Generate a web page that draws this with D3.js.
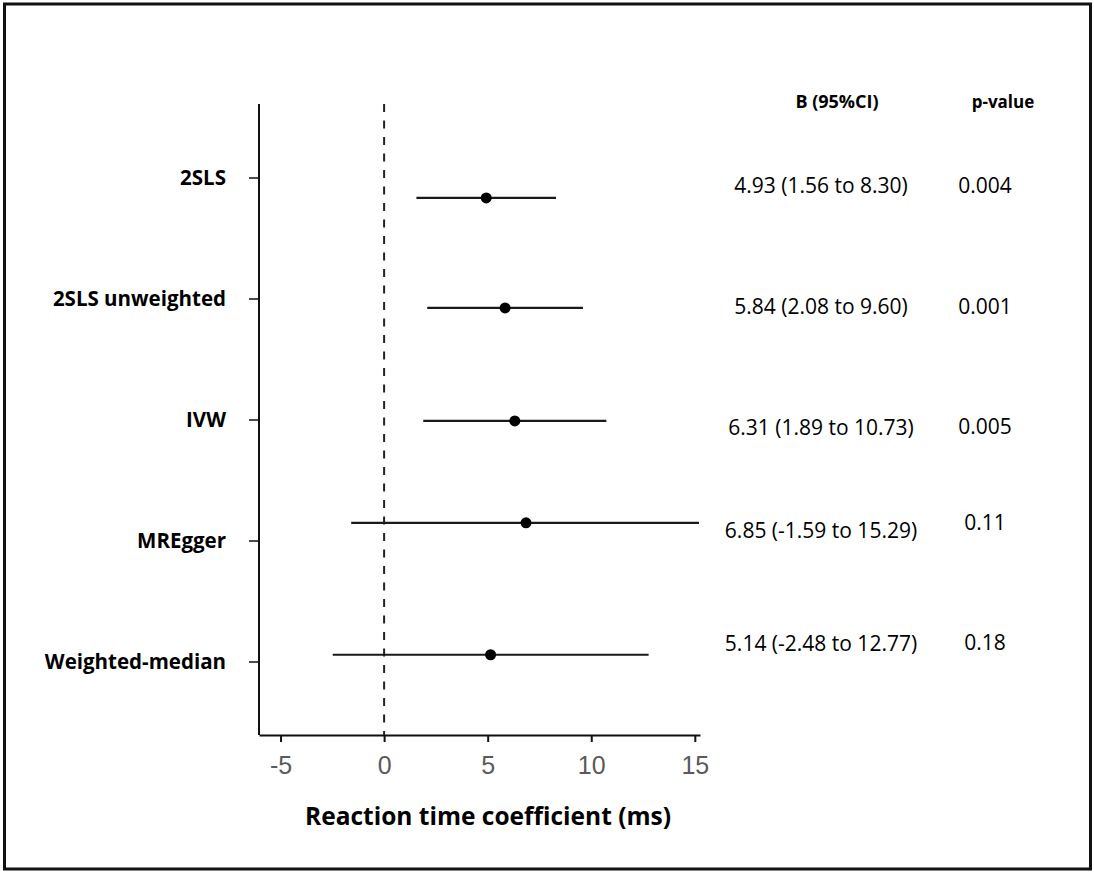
<!DOCTYPE html>
<html lang="en">
<head>
    <meta charset="UTF-8">
    <title>Reaction time forest plot</title>
    <script src="https://d3js.org/d3.v7.min.js"></script>
    <style>
        body { margin: 0; background: #fff; }
        svg { display: block; }
    </style>
</head>
<body>
    <svg id="chart"></svg>
    <script>
        // data
        var methods = ["2SLS", "2SLS unweighted", "IVW", "MREgger", "Weighted-median"];
        var beta    = [4.93, 5.84, 6.31, 6.85, 5.14];
        var lower   = [1.56, 2.08, 1.89, -1.59, -2.48];
        var upper   = [8.30, 9.60, 10.73, 15.29, 12.77];
        var pvalues = ["0.004", "0.001", "0.005", "0.11", "0.18"];
        var xTicks  = [-5, 0, 5, 10, 15];

        // the rows in the original are not quite aligned (row units, 1 = first tick)
        var pointRow = [1.165, 2.074, 3.008, 3.85, 4.94];
        var ciRow    = [1.066, 2.066, 3.066, 3.917, 4.85];
        var pRow     = [1.066, 2.066, 3.058, 3.85, 4.84];

        var width = 1094, height = 873;

        var svg = d3.select("#chart")
            .attr("width", width)
            .attr("height", height);

        // plain hyphen for negatives, like the original
        var fmt = function(v) { return d3.format(".2f")(v).replace("\u2212", "-"); };

        // outer frame
        svg.append("rect")
            .attr("x", 4.5).attr("y", 4)
            .attr("width", 1086).attr("height", 865)
            .attr("fill", "none")
            .attr("stroke", "#111")
            .attr("stroke-width", 3);

        // scales
        var x = d3.scaleLinear().domain([-6.04, 15.25]).range([259, 700]);
        var yRow = d3.scaleLinear().domain([1, 5]).range([178, 662]);
        var yTop = 104, yBottom = 735;

        // x axis
        var xAxis = svg.append("g")
            .attr("transform", "translate(0," + yBottom + ")")
            .call(d3.axisBottom(x)
                .tickValues(xTicks)
                .tickFormat(function(d) { return String(d); })
                .tickSize(7).tickSizeOuter(0).tickPadding(14));
        xAxis.select(".domain").attr("stroke", "#111").attr("stroke-width", 2);
        xAxis.selectAll(".tick line").attr("stroke", "#111").attr("stroke-width", 2);
        xAxis.selectAll(".tick text")
            .attr("fill", "#5a5a5a")
            .style("font-family", "'Liberation Sans', Arial, sans-serif")
            .style("font-size", "25px");

        // y axis line and ticks
        svg.append("line")
            .attr("x1", x(-6.04)).attr("x2", x(-6.04))
            .attr("y1", yTop).attr("y2", yBottom)
            .attr("stroke", "#111").attr("stroke-width", 2);

        svg.selectAll("line.ytick")
            .data(methods)
            .enter()
            .append("line")
            .attr("class", "ytick")
            .attr("x1", x(-6.04) - 10).attr("x2", x(-6.04))
            .attr("y1", function(d, i) { return yRow(i + 1); })
            .attr("y2", function(d, i) { return yRow(i + 1); })
            .attr("stroke", "#111").attr("stroke-width", 1.5);

        svg.selectAll("text.method")
            .data(methods)
            .enter()
            .append("text")
            .attr("class", "method")
            .attr("x", 226)
            .attr("y", function(d, i) { return yRow(i + 1); })
            .attr("dy", "0.35em")
            .attr("text-anchor", "end")
            .style("font-family", "'Open Sans', sans-serif")
            .style("font-weight", "bold")
            .style("font-size", "20.5px")
            .text(function(d) { return d; });

        // reference line at zero
        svg.append("line")
            .attr("x1", x(0)).attr("x2", x(0))
            .attr("y1", yTop).attr("y2", yBottom)
            .attr("stroke", "#222")
            .attr("stroke-width", 2)
            .attr("stroke-dasharray", "8,8.5");

        // confidence intervals (clipped at axis end like the original)
        svg.selectAll("line.ci")
            .data(methods)
            .enter()
            .append("line")
            .attr("class", "ci")
            .attr("x1", function(d, i) { return x(Math.max(lower[i], -6.04)); })
            .attr("x2", function(d, i) { return x(Math.min(upper[i], 15.2)); })
            .attr("y1", function(d, i) { return yRow(pointRow[i]); })
            .attr("y2", function(d, i) { return yRow(pointRow[i]); })
            .attr("stroke", "#1a1a1a")
            .attr("stroke-width", 2.2);

        svg.selectAll("circle.pt")
            .data(methods)
            .enter()
            .append("circle")
            .attr("class", "pt")
            .attr("cx", function(d, i) { return x(beta[i]); })
            .attr("cy", function(d, i) { return yRow(pointRow[i]); })
            .attr("r", 5.5)
            .attr("fill", "#000");

        // table on the right
        svg.append("text")
            .attr("x", 837).attr("y", 102)
            .attr("dy", "0.35em")
            .attr("text-anchor", "middle")
            .style("font-family", "'Open Sans', sans-serif")
            .style("font-weight", "bold")
            .style("font-size", "18px")
            .text("B (95%CI)");

        svg.append("text")
            .attr("x", 1003).attr("y", 102)
            .attr("dy", "0.35em")
            .attr("text-anchor", "middle")
            .style("font-family", "'Open Sans', sans-serif")
            .style("font-weight", "bold")
            .style("font-size", "17px")
            .text("p-value");

        svg.selectAll("text.ci")
            .data(methods)
            .enter()
            .append("text")
            .attr("class", "ci")
            .attr("x", 821)
            .attr("y", function(d, i) { return yRow(ciRow[i]); })
            .attr("dy", "0.35em")
            .attr("text-anchor", "middle")
            .style("font-family", "'Open Sans', sans-serif")
            .style("font-size", "21px")
            .text(function(d, i) {
                return fmt(beta[i]) + " (" + fmt(lower[i]) + " to " + fmt(upper[i]) + ")";
            });

        svg.selectAll("text.pv")
            .data(pvalues)
            .enter()
            .append("text")
            .attr("class", "pv")
            .attr("x", 985)
            .attr("y", function(d, i) { return yRow(pRow[i]); })
            .attr("dy", "0.35em")
            .attr("text-anchor", "middle")
            .style("font-family", "'Open Sans', sans-serif")
            .style("font-size", "21px")
            .text(function(d) { return d; });

        // x axis title
        svg.append("text")
            .attr("x", 488).attr("y", 816)
            .attr("dy", "0.35em")
            .attr("text-anchor", "middle")
            .style("font-family", "'Open Sans', sans-serif")
            .style("font-weight", "bold")
            .style("font-size", "24.5px")
            .text("Reaction time coefficient (ms)");
    </script>
</body>
</html>
